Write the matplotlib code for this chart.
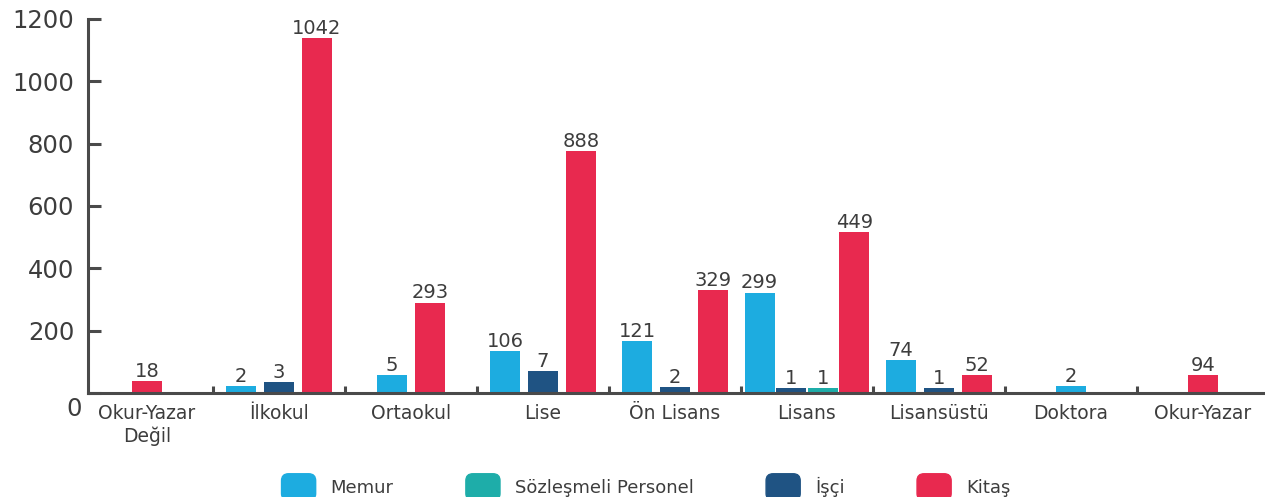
import numpy as np
import matplotlib
matplotlib.use('Agg')
from matplotlib import pyplot as plt
from matplotlib.patches import Patch, FancyBboxPatch
from matplotlib.legend_handler import HandlerPatch
from matplotlib.transforms import ScaledTranslation

categories = ["Okur-Yazar\nDeğil", "İlkokul", "Ortaokul", "Lise", "Ön Lisans",
              "Lisans", "Lisansüstü", "Doktora", "Okur-Yazar"]

# bar heights as drawn in the picture
memur      = [0, 22, 58, 135, 167, 322, 106, 22, 0]
isci       = [0, 35, 0, 71, 19, 16, 16, 0, 0]
sozlesmeli = [0, 0, 0, 0, 0, 16, 0, 0, 0]
kitas      = [38, 1139, 290, 776, 330, 516, 58, 0, 58]

# numbers printed above the bars
memur_lbl      = ["", "2", "5", "106", "121", "299", "74", "2", ""]
isci_lbl       = ["", "3", "", "7", "2", "1", "1", "", ""]
sozlesmeli_lbl = ["", "", "", "", "", "1", "", "", ""]
kitas_lbl      = ["18", "1042", "293", "888", "329", "449", "52", "", "94"]

yticks = [0, 200, 400, 600, 800, 1000, 1200]

c_memur = '#1DACE0'
c_soz = '#1EADA9'
c_isci = '#1F5383'
c_kitas = '#E8294F'
txt = '#3d3d3d'
axc = '#4a4a4a'

# order of bars inside a group
series = [(memur, memur_lbl, c_memur),
          (isci, isci_lbl, c_isci),
          (sozlesmeli, sozlesmeli_lbl, c_soz),
          (kitas, kitas_lbl, c_kitas)]

fig = plt.figure(figsize=(12.65, 4.97), dpi=100)
ax = fig.add_axes([0.0696, 0.2093, 0.9304, 0.7525])

w = 0.227
for i in range(len(categories)):
    present = [s for s in series if s[0][i] > 0]
    n = len(present)
    gap = 0.012 if n >= 4 else 0.06
    total = n * w + (n - 1) * gap
    x0 = i - total / 2 + w / 2
    for k, (vals, lbls, col) in enumerate(present):
        x = x0 + k * (w + gap)
        ax.bar(x, vals[i], width=w, color=col, linewidth=0)
        ax.annotate(lbls[i], (x, vals[i]), xytext=(0, 3), textcoords='offset points',
                    ha='center', va='baseline', fontsize=14, color=txt)

ax.set_xlim(-0.447, 8.47)
ax.set_ylim(0, 1200)

for s in ['top', 'right']:
    ax.spines[s].set_visible(False)
for s in ['left', 'bottom']:
    ax.spines[s].set_color(axc)
    ax.spines[s].set_linewidth(2.2)

ax.set_yticks(yticks)
ax.set_yticklabels([str(v) for v in yticks])
ax.tick_params(axis='y', direction='in', length=9.5, width=2.2, color=axc,
               labelsize=17.5, labelcolor=txt, pad=10)
# the zero label sits a bit lower and to the right
zl = ax.get_yticklabels()[0]
zl.set_transform(zl.get_transform() + ScaledTranslation(0.08, -0.14, fig.dpi_scale_trans))

ax.set_xticks(range(len(categories)))
ax.set_xticklabels(categories)
ax.tick_params(axis='x', which='major', length=0, labelsize=13.5, labelcolor=txt, pad=8)
ax.set_xticks(np.arange(len(categories) - 1) + 0.5, minor=True)
ax.tick_params(axis='x', which='minor', direction='in', length=5, width=2.2, color=axc)


def rounded(legend, orig_handle, xdescent, ydescent, width, height, fontsize):
    return FancyBboxPatch((-xdescent, -ydescent), width, height,
                          boxstyle="round,pad=0,rounding_size=5")


handles = [Patch(color=c_memur, label='Memur'),
           Patch(color=c_soz, label='Sözleşmeli Personel'),
           Patch(color=c_isci, label='İşçi'),
           Patch(color=c_kitas, label='Kitaş')]
leg = fig.legend(handles=handles, loc='center', bbox_to_anchor=(0.5107, 0.02), ncol=4,
                 frameon=False, fontsize=13, handlelength=1.89, handleheight=1.89,
                 handletextpad=0.83, columnspacing=4.0,
                 handler_map={Patch: HandlerPatch(patch_func=rounded)})
for t in leg.get_texts():
    t.set_color(txt)

plt.savefig('out.png', dpi=100)
